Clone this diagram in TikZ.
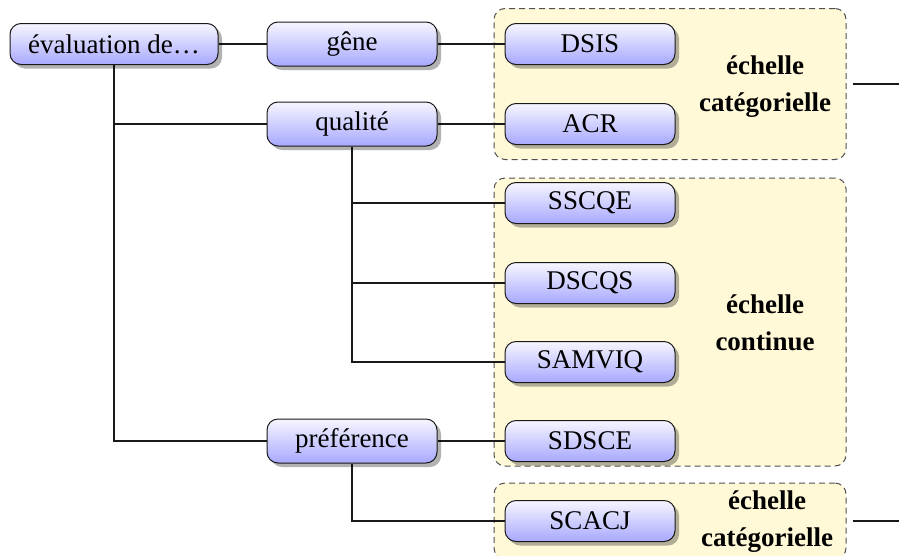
\documentclass[tikz,border=0pt]{standalone}
\usepackage{fontspec}
\setmainfont{Liberation Serif}
\usetikzlibrary{shadows,backgrounds}
\definecolor{boxtop}{RGB}{246,246,255}
\definecolor{boxbot}{RGB}{168,168,255}
\definecolor{grpfill}{RGB}{255,249,216}
\definecolor{grpdraw}{RGB}{80,80,80}
\tikzset{
  box/.style={draw=black!90, line width=1pt, rounded corners=11pt,
    top color=boxtop, bottom color=boxbot, minimum width=170pt,
    minimum height=41pt, inner sep=0pt,
    drop shadow={shadow xshift=4pt, shadow yshift=-4pt, opacity=0.3, fill=black},
    font=\fontsize{27}{32}\selectfont},
  topbox/.style={box, minimum height=44pt},
  grp/.style={draw=grpdraw, fill=grpfill, dashed, dash pattern=on 6pt off 4pt,
    line width=1pt, rounded corners=11pt, inner sep=0pt},
  lab/.style={align=center, font=\fontsize{27}{37}\selectfont\bfseries, inner sep=0pt},
  conn/.style={draw=black!90, line width=1.1pt}
}
\begin{document}
\begin{tikzpicture}[x=1pt,y=-1pt]
\useasboundingbox (0,0) rectangle (899,555);
% main nodes
\node[box, minimum width=208pt] (eval) at (114,44) {évaluation de\dots};
\node[topbox] (gene) at (352,44) {gêne};
\node[topbox] (qual) at (352,124) {qualité};
\node[topbox] (pref) at (352,441) {préférence};
\node[box] (dsis) at (590,44) {DSIS};
\node[box] (acr) at (590,124) {ACR};
\node[box] (sscqe) at (590,203) {SSCQE};
\node[box] (dscqs) at (590,283) {DSCQS};
\node[box] (samviq) at (590,362) {SAMVIQ};
\node[box] (sdsce) at (590,441) {SDSCE};
\node[box] (scacj) at (590,521) {SCACJ};
% labels
\node[lab] (lab1) at (765,87) {échelle\\catégorielle};
\node[lab] (lab2) at (765,323) {échelle\\continue};
\node[lab] (lab3) at (767,522) {échelle\\catégorielle};
\coordinate (out1) at (899,84);
\coordinate (out3) at (899,521);
\begin{scope}[on background layer]
  \node[grp, minimum width=352pt, minimum height=151pt] (grp1) at (670,84) {};
  \node[grp, minimum width=352pt, minimum height=288pt] (grp2) at (670,322) {};
  \node[grp, minimum width=352pt, minimum height=76pt] (grp3) at (670,521) {};
  \draw[conn] (eval) -- (gene);
  \draw[conn] (gene) -- (dsis);
  \draw[conn] (qual) -- (acr);
  \draw[conn] (pref) -- (sdsce);
  \draw[conn] (eval.south) |- (pref.west);
  \draw[conn] (eval.south |- qual.west) -- (qual.west);
  \draw[conn] (qual.south) |- (samviq.west);
  \draw[conn] (qual.south |- sscqe.west) -- (sscqe.west);
  \draw[conn] (qual.south |- dscqs.west) -- (dscqs.west);
  \draw[conn] (pref.south) |- (scacj.west);
  \draw[conn] ([xshift=6pt]grp1.east) -- (grp1.east -| out1);
  \draw[conn] ([xshift=6pt]grp3.east) -- (grp3.east -| out3);
\end{scope}
\end{tikzpicture}
\end{document}
